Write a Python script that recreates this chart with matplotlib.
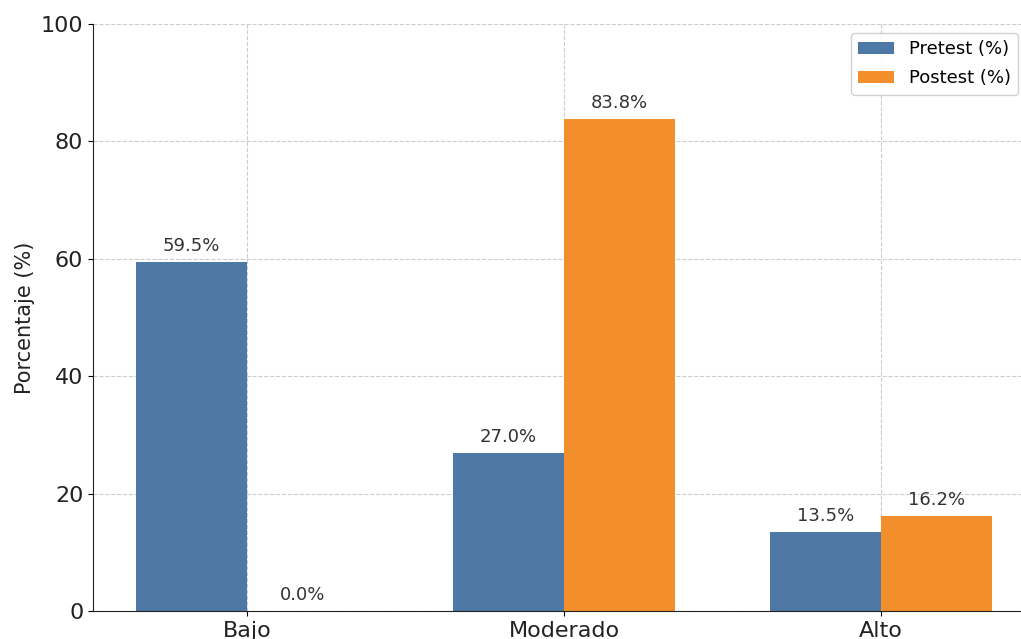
import matplotlib
matplotlib.use("Agg")
import matplotlib.pyplot as plt
import numpy as np

categories = ["Bajo", "Moderado", "Alto"]
pretest = [59.5, 27.0, 13.5]
postest = [0.0, 83.8, 16.2]
series_names = ["Pretest (%)", "Postest (%)"]

fig = plt.figure(figsize=(10.21, 6.39), dpi=100)
ax = fig.add_axes([0.0911, 0.0438, 0.9226, 0.9186])

x = np.arange(len(categories))
w = 0.35
b1 = ax.bar(x - w / 2, pretest, w, color="#4e79a7", label=series_names[0])
b2 = ax.bar(x + w / 2, postest, w, color="#f28e2b", label=series_names[1])

for bars in (b1, b2):
    for rect in bars:
        h = rect.get_height()
        ax.annotate(f"{h:.1f}%", (rect.get_x() + rect.get_width() / 2, h),
                    xytext=(0, 5), textcoords="offset points",
                    ha="center", va="bottom", fontsize=13, color="#333333")

ax.set_ylim(0, 100)
ax.set_xticks(x)
ax.set_xticklabels(categories, fontsize=16, color="#222222")
ax.tick_params(axis="y", labelsize=16, labelcolor="#222222")
ax.set_ylabel("Porcentaje (%)", fontsize=15, color="#222222")
ax.set_axisbelow(True)
ax.grid(True, linestyle="--", color="#cccccc", linewidth=0.8)
ax.spines["top"].set_visible(False)
ax.spines["right"].set_visible(False)
for s in ("left", "bottom"):
    ax.spines[s].set_color("#222222")

ax.legend(loc="upper right", bbox_to_anchor=(0.997, 0.948),
          bbox_transform=fig.transFigure, borderaxespad=0,
          fontsize=13, labelspacing=0.6, framealpha=0.9)

fig.savefig("out.png", dpi=100)
